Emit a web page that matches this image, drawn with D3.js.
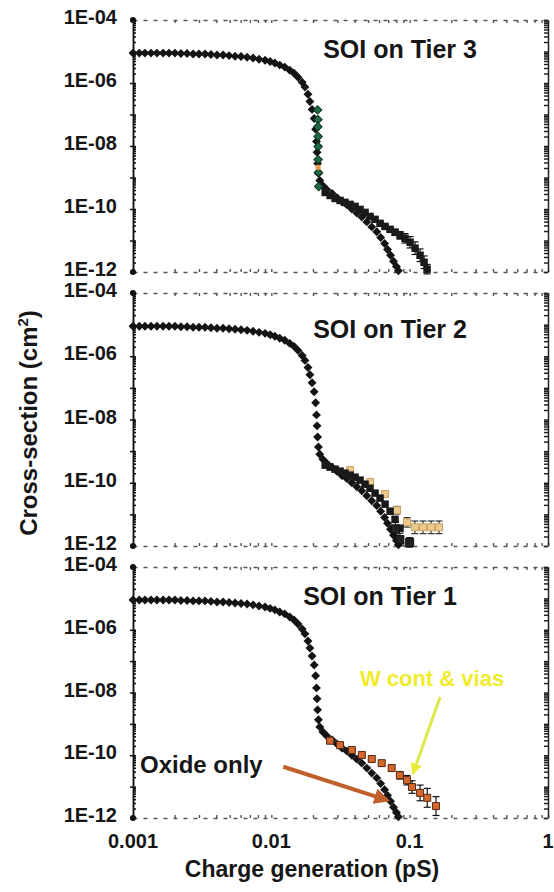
<!DOCTYPE html>
<meta charset="utf-8">
<style>
body { margin: 0; background: #fff; }
svg { display: block; background: #fff; font-family: "Liberation Sans", Arial, sans-serif; font-weight: bold; }
.lbl { font-size: 20px; fill: #161616; }
.ptitle { font-size: 25px; fill: #161616; }
.atitle { font-size: 23px; fill: #161616; }
.frame path, .frame line { fill: none; stroke: #555; stroke-width: 1.4px; }
.frame path { stroke-dasharray: 4,6; }
.yleft path, .yleft line { fill: none; stroke: #111; stroke-width: 1.5px; }
.yright path, .yright line { fill: none; stroke: #222; stroke-width: 1.5px; }
.err { stroke: #111; stroke-width: 1.2px; }
</style>
<body>
<div id="chart"></div>
<script src="https://cdn.jsdelivr.net/npm/d3@7"></script>
<script>
var panelTitles = ["SOI on Tier 3", "SOI on Tier 2", "SOI on Tier 1"];
var yTickValues = [1e-4, 1e-6, 1e-8, 1e-10, 1e-12];
var yTickLabels = ["1E-04", "1E-06", "1E-08", "1E-10", "1E-12"];
var xTickValues = [0.001, 0.01, 0.1, 1];
var xTickLabels = ["0.001", "0.01", "0.1", "1"];

// oxide-only curve, the same black diamonds in every panel
var oxideQ = [0.00100, 0.00111, 0.00122, 0.00135, 0.00149, 0.00165, 0.00182, 0.00201, 0.00222, 0.00246,
  0.00272, 0.00300, 0.00332, 0.00366, 0.00405, 0.00448, 0.00495, 0.00547, 0.00604, 0.00668,
  0.00738, 0.00815, 0.00901, 0.00980, 0.0106, 0.0115, 0.0125, 0.0136, 0.0146, 0.0156,
  0.0167, 0.0175, 0.0184, 0.0190, 0.0197, 0.0204, 0.0209, 0.0212, 0.0214, 0.0216,
  0.0219, 0.0224, 0.0236, 0.0252, 0.0275, 0.0298, 0.0324, 0.0352, 0.0382, 0.0415,
  0.0451, 0.0490, 0.0532, 0.0578, 0.0617, 0.0659, 0.0692, 0.0727, 0.0764, 0.0802, 0.0829];
var oxideSigma = [8.9e-6, 8.9e-6, 8.9e-6, 8.9e-6, 8.9e-6, 8.9e-6, 8.9e-6, 8.9e-6, 8.6e-6, 8.6e-6,
  8.3e-6, 8.3e-6, 8.3e-6, 8.0e-6, 7.7e-6, 7.7e-6, 7.4e-6, 7.1e-6, 6.9e-6, 6.6e-6,
  6.2e-6, 5.7e-6, 5.3e-6, 4.8e-6, 4.3e-6, 3.7e-6, 3.2e-6, 2.55e-6, 2.05e-6, 1.53e-6,
  1.06e-6, 7.4e-7, 4.4e-7, 2.6e-7, 1.45e-7, 7.5e-8, 3.4e-8, 1.4e-8, 6.3e-9, 2.8e-9,
  1.35e-9, 8.0e-10, 5.5e-10, 4.1e-10, 3.1e-10, 2.3e-10, 1.7e-10, 1.35e-10, 1.0e-10, 7.5e-11,
  5.6e-11, 3.9e-11, 2.7e-11, 1.9e-11, 1.25e-11, 8.0e-12, 5.2e-12, 3.4e-12, 2.2e-12, 1.5e-12, 1.1e-12];

// tier 3
var t3GreenQ = [0.0216, 0.0217, 0.0217, 0.0218, 0.0218, 0.0218, 0.0219, 0.0220];
var t3GreenSigma = [1.4e-7, 6.9e-8, 4.1e-8, 2.0e-8, 9.6e-9, 3.7e-9, 1.44e-9, 5.2e-10];
var t3OrangeQ = [0.0218];
var t3OrangeSigma = [2.1e-9];
var t3TailQ = [0.0245, 0.0266, 0.0289, 0.0314, 0.0341, 0.0371, 0.0403, 0.0438, 0.0476, 0.0517, 0.0562,
  0.0611, 0.0664, 0.0722, 0.0784, 0.0852, 0.0926, 0.1007, 0.1094, 0.1189, 0.1271, 0.1336];
var t3TailSigma = [3.35e-10, 2.69e-10, 2.16e-10, 1.87e-10, 1.62e-10, 1.40e-10, 1.21e-10, 9.7e-11, 7.8e-11, 5.8e-11, 4.7e-11,
  3.5e-11, 2.8e-11, 2.26e-11, 1.82e-11, 1.46e-11, 1.17e-11, 8.8e-12, 5.7e-12, 3.4e-12, 2.04e-12, 1.23e-12];
var t3TailErr = [0, 0, 0, 0, 0, 0, 0, 0, 0, 0.03, 0.04,
  0.05, 0.06, 0.08, 0.1, 0.12, 0.15, 0.18, 0.2, 0.2, 0.2, 0.15];

// tier 2
var t2BlackQ = [0.0245, 0.0266, 0.0289, 0.0314, 0.0341, 0.0371, 0.0403, 0.0438, 0.0476, 0.0517, 0.0562,
  0.0611, 0.0664, 0.0722, 0.0784, 0.0852];
var t2BlackSigma = [3.6e-10, 3.12e-10, 2.69e-10, 2.33e-10, 2.01e-10, 1.74e-10, 1.50e-10, 1.21e-10, 9.0e-11, 6.7e-11, 4.7e-11,
  3.26e-11, 2.1e-11, 1.26e-11, 7.0e-12, 3.66e-12];
var t2TanQ = [0.0371, 0.0518, 0.0664, 0.0811, 0.0957, 0.109, 0.125, 0.143, 0.163];
var t2TanSigma = [2.5e-10, 1.05e-10, 4.4e-11, 1.35e-11, 5.6e-12, 3.9e-12, 3.9e-12, 3.9e-12, 3.9e-12];
var t2TanErr = [0.05, 0.06, 0.08, 0.12, 0.15, 0.2, 0.2, 0.2, 0.2];
var t2DarkQ = [0.079, 0.085, 0.100];
var t2DarkSigma = [3.5e-12, 1.6e-12, 1.3e-12];
var t2DarkErr = [0.2, 0.2, 0.15];

// tier 1, W contacts & vias
var wQ = [0.0266, 0.0314, 0.0382, 0.0451, 0.0532, 0.0628, 0.0741, 0.0849, 0.0957, 0.104, 0.119, 0.134, 0.155];
var wSigma = [2.9e-10, 2.1e-10, 1.47e-10, 1.02e-10, 7.6e-11, 5.6e-11, 3.9e-11, 2.3e-11, 1.6e-11, 9.7e-12, 6.3e-12, 4.4e-12, 2.4e-12];
var wErr = [0.03, 0.04, 0.04, 0.05, 0.06, 0.08, 0.1, 0.12, 0.15, 0.2, 0.25, 0.3, 0.3];

var width = 554, height = 892;
var left = 133, right = 548;
var panels = [{top: 20, bottom: 272}, {top: 293, bottom: 546}, {top: 567, bottom: 818}];
var titlePos = [[400, 58], [390, 338], [380, 605]];

var svg = d3.select("#chart").append("svg")
  .attr("width", width)
  .attr("height", height);

var x = d3.scaleLog().domain([0.001, 1]).range([left, right]);

function markers(g, y, qs, ss, opt) {
  var sym = d3.symbol().type(d3.symbolSquare).size(opt.size * opt.size);
  g.append("g").selectAll("path")
    .data(d3.zip(qs, ss))
    .enter().append("path")
    .attr("d", sym)
    .attr("transform", function(d) {
      return "translate(" + x(d[0]) + "," + y(d[1]) + ")" + (opt.diamond ? " rotate(45)" : "");
    })
    .style("fill", opt.fill)
    .style("stroke", opt.stroke || "none")
    .style("stroke-width", 1);
}

function errorBars(g, y, qs, ss, es, color) {
  var eg = g.append("g").attr("class", "err").style("stroke", color);
  d3.zip(qs, ss, es).filter(function(d) { return d[2] > 0; }).forEach(function(d) {
    var cx = x(d[0]);
    var y0 = y(d[1] * Math.pow(10, -d[2])), y1 = y(d[1] * Math.pow(10, d[2]));
    eg.append("line").attr("x1", cx).attr("x2", cx).attr("y1", y0).attr("y2", y1);
    eg.append("line").attr("x1", cx - 3.5).attr("x2", cx + 3.5).attr("y1", y0).attr("y2", y0);
    eg.append("line").attr("x1", cx - 3.5).attr("x2", cx + 3.5).attr("y1", y1).attr("y2", y1);
  });
}

panels.forEach(function(p, i) {
  var y = d3.scaleLog().domain([1e-4, 1e-12]).range([p.top, p.bottom]);
  var g = svg.append("g");

  // top & bottom dotted frame
  g.append("g").attr("class", "frame")
    .attr("transform", "translate(0," + p.top + ")")
    .call(d3.axisBottom(x).tickSize(3).tickSizeOuter(0).tickFormat(""));
  g.append("g").attr("class", "frame")
    .attr("transform", "translate(0," + p.bottom + ")")
    .call(d3.axisTop(x).tickSize(3).tickSizeOuter(0).tickFormat(""));

  // right axis with dense minor ticks
  g.append("g").attr("class", "yright")
    .attr("transform", "translate(" + right + ",0)")
    .call(d3.axisLeft(y).ticks(10).tickSize(4).tickSizeOuter(0).tickFormat(""));

  // left axis
  g.append("g").attr("class", "yleft")
    .attr("transform", "translate(" + left + ",0)")
    .call(d3.axisRight(y).ticks(10).tickSize(3).tickSizeOuter(0).tickFormat(""));
  g.append("g").attr("class", "yleft")
    .attr("transform", "translate(" + left + ",0)")
    .call(d3.axisLeft(y).tickValues(d3.range(-12, -3).map(function(e) { return Math.pow(10, e); }))
      .tickSize(3).tickSizeOuter(0).tickFormat(""));
  g.selectAll(".dot").data([1e-4, 1e-12]).enter().append("circle")
    .attr("cx", left).attr("cy", function(d) { return y(d); }).attr("r", 3).style("fill", "#111");

  g.selectAll(".lbl").data(yTickValues).enter().append("text")
    .attr("class", "lbl")
    .attr("x", 117)
    .attr("y", function(d) { return y(d) - 3; })
    .attr("dy", "0.35em")
    .attr("text-anchor", "end")
    .text(function(d, k) { return yTickLabels[k]; });

  g.append("text").attr("class", "ptitle")
    .attr("x", titlePos[i][0]).attr("y", titlePos[i][1])
    .attr("text-anchor", "middle")
    .text(panelTitles[i]);

  // data
  if (i === 1) {
    errorBars(g, y, t2TanQ, t2TanSigma, t2TanErr, "#333");
    markers(g, y, t2TanQ, t2TanSigma, {size: 7, fill: "#ecc98e", stroke: "#c8a060"});
  }
  markers(g, y, oxideQ, oxideSigma, {size: 6.3, diamond: true, fill: "#141414"});
  if (i === 0) {
    errorBars(g, y, t3TailQ, t3TailSigma, t3TailErr, "#111");
    markers(g, y, t3TailQ, t3TailSigma, {size: 7.5, fill: "#1a1a1a"});
    markers(g, y, t3GreenQ, t3GreenSigma, {size: 6, diamond: true, fill: "#1f6a45", stroke: "#0d3322"});
    markers(g, y, t3OrangeQ, t3OrangeSigma, {size: 5, fill: "#e89a50"});
  }
  if (i === 1) {
    markers(g, y, t2BlackQ, t2BlackSigma, {size: 7.5, fill: "#1a1a1a"});
    errorBars(g, y, t2DarkQ, t2DarkSigma, t2DarkErr, "#111");
    markers(g, y, t2DarkQ, t2DarkSigma, {size: 8, fill: "#222", stroke: "#111"});
  }
  if (i === 2) {
    errorBars(g, y, wQ, wSigma, wErr, "#111");
    markers(g, y, wQ, wSigma, {size: 7, fill: "#d2682f", stroke: "#5a2a10"});

    var defs = svg.append("defs");
    defs.append("marker").attr("id", "headBrown").attr("viewBox", "0 0 10 10")
      .attr("refX", 8).attr("refY", 5).attr("markerWidth", 4).attr("markerHeight", 4)
      .attr("orient", "auto")
      .append("path").attr("d", "M0,0 L10,5 L0,10 z").style("fill", "#c0602c");
    defs.append("marker").attr("id", "headYellow").attr("viewBox", "0 0 10 10")
      .attr("refX", 8).attr("refY", 5).attr("markerWidth", 4).attr("markerHeight", 4)
      .attr("orient", "auto")
      .append("path").attr("d", "M0,0 L10,5 L0,10 z").style("fill", "#e8ec3a");

    g.append("line")
      .attr("x1", x(0.0122)).attr("y1", y(4.3e-11))
      .attr("x2", x(0.0687)).attr("y2", y(3.7e-12))
      .style("stroke", "#c0602c").style("stroke-width", 4)
      .attr("marker-end", "url(#headBrown)");
    g.append("line")
      .attr("x1", x(0.166)).attr("y1", y(7.2e-9))
      .attr("x2", x(0.106)).attr("y2", y(2.7e-11))
      .style("stroke", "#dde84a").style("stroke-width", 3)
      .attr("marker-end", "url(#headYellow)");

    g.append("text").attr("class", "atitle")
      .style("font-size", "24px")
      .attr("x", 140).attr("y", 773)
      .text("Oxide only");
    g.append("text")
      .attr("x", 432).attr("y", 686)
      .attr("text-anchor", "middle")
      .style("font-size", "22px")
      .style("fill", "#f0ec2a")
      .text("W cont & vias");

    g.selectAll(".xl").data(xTickValues).enter().append("text")
      .attr("class", "lbl")
      .attr("x", function(d) { return x(d); })
      .attr("y", 848)
      .attr("text-anchor", "middle")
      .text(function(d, k) { return xTickLabels[k]; });
  }
});

svg.append("text").attr("class", "atitle")
  .attr("x", 312).attr("y", 877)
  .attr("text-anchor", "middle")
  .text("Charge generation (pS)");

var yt = svg.append("text").attr("class", "atitle")
  .style("font-size", "24px")
  .attr("transform", "translate(37,423) rotate(-90)")
  .attr("text-anchor", "middle");
yt.append("tspan").text("Cross-section (cm");
yt.append("tspan").attr("dy", -9).style("font-size", "15px").text("2");
yt.append("tspan").attr("dy", 9).text(")");
</script>
